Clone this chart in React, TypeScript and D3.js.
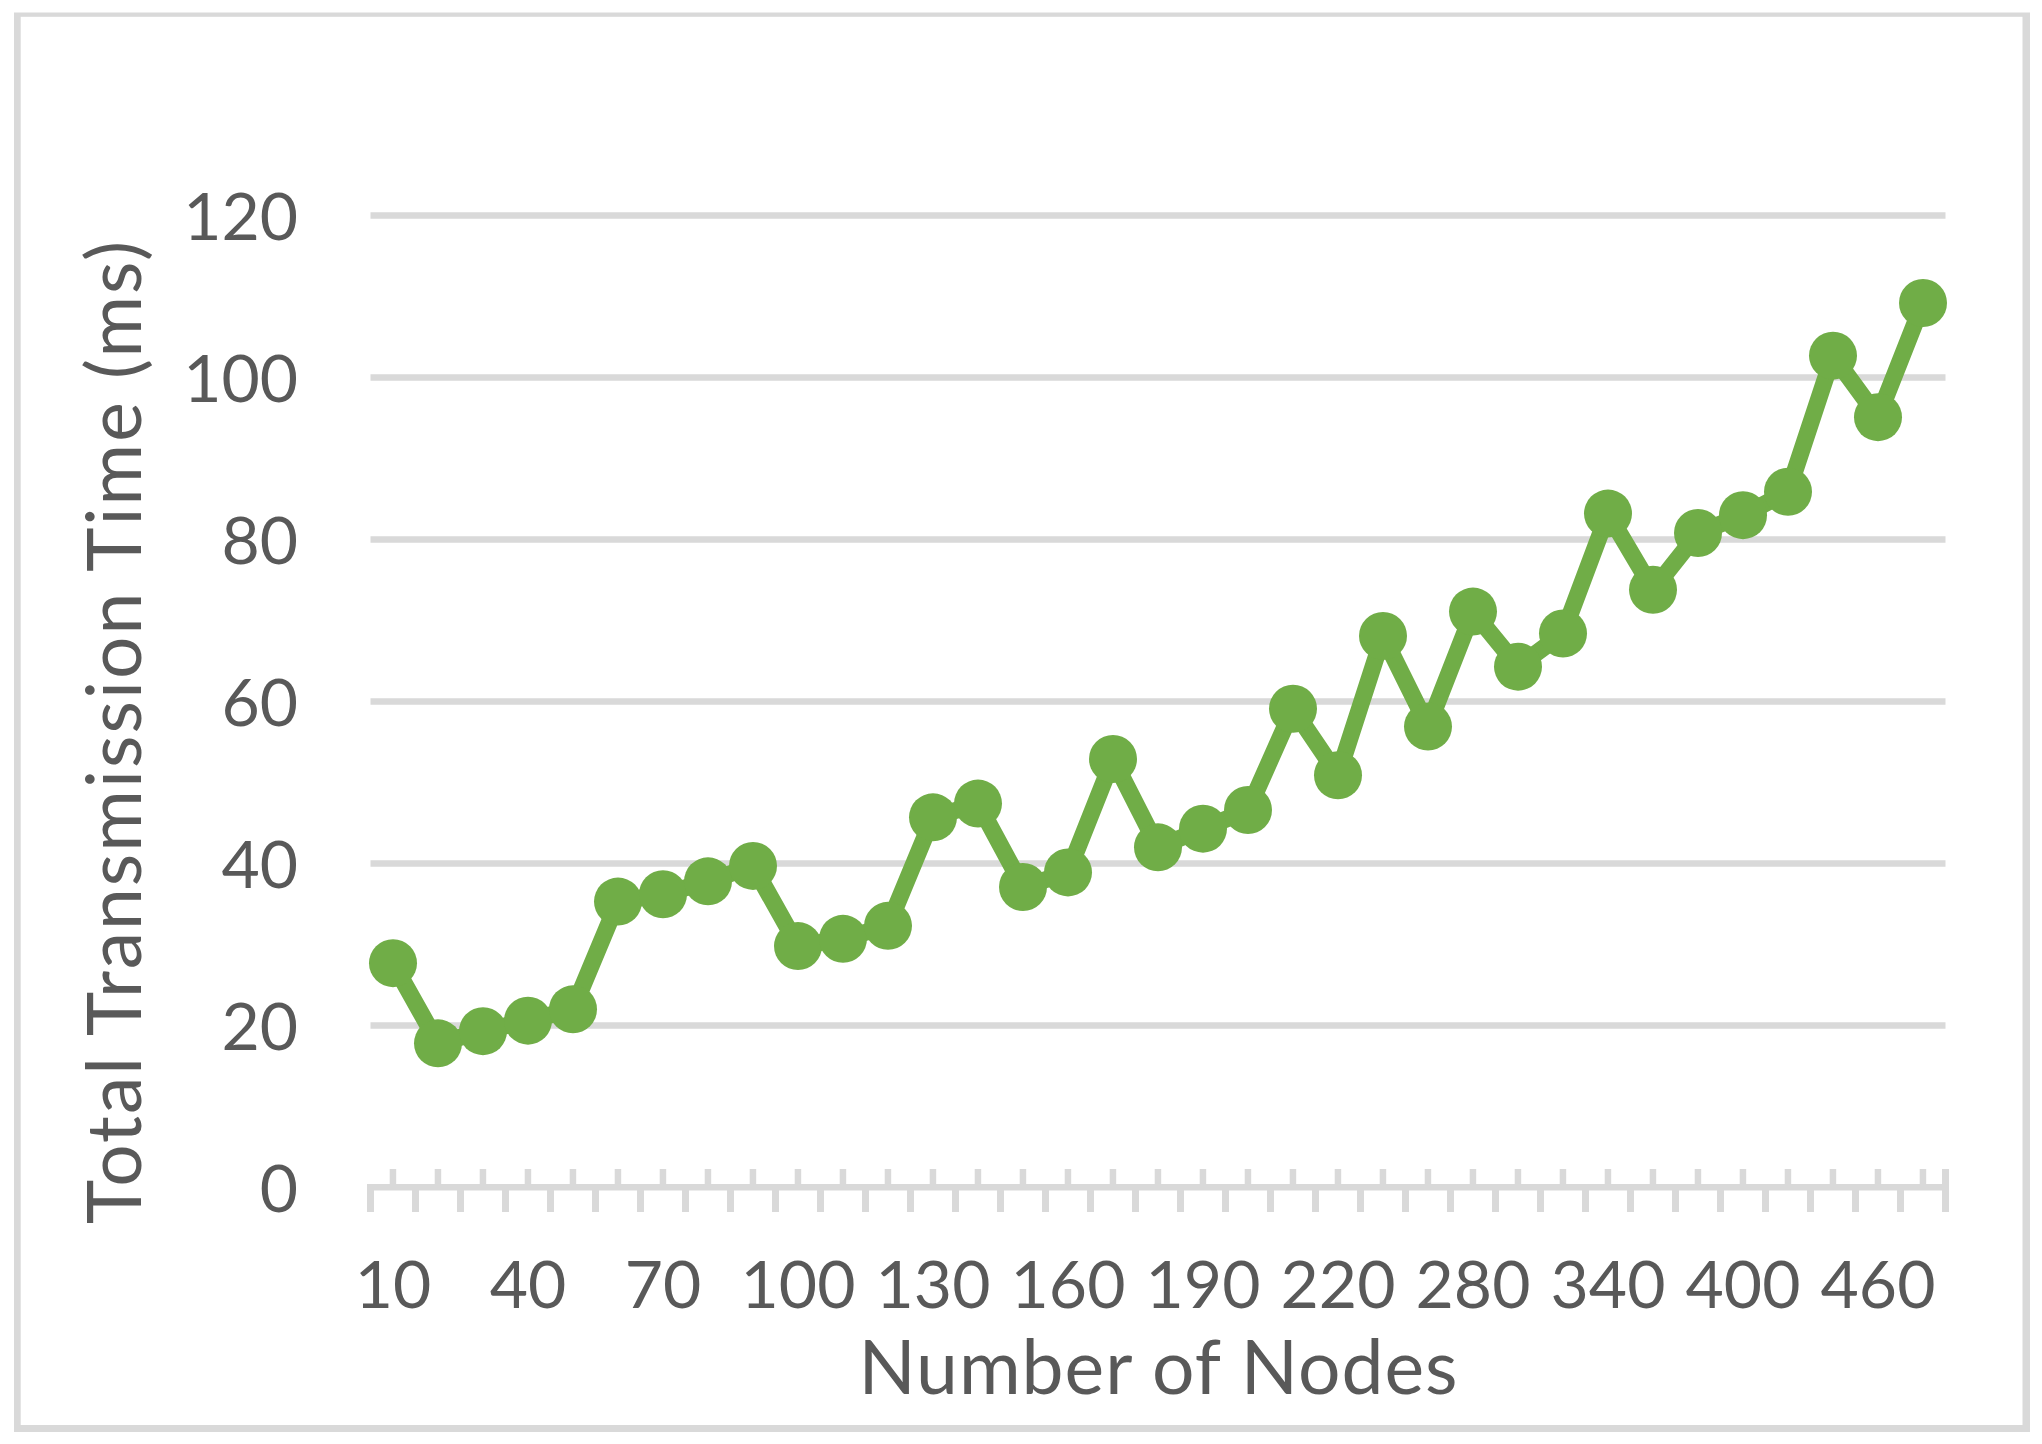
import React from 'react';
import * as d3 from 'd3';

// Number of nodes (category axis) and measured total transmission time (ms)
const nodeCounts = [
  10, 20, 30, 40, 50, 60, 70, 80, 90, 100, 110, 120, 130, 140, 150, 160, 170, 180, 190, 200, 210, 220,
  240, 260, 280, 300, 320, 340, 360, 380, 400, 420, 440, 460, 480,
];
const transmissionTime = [
  27.7, 17.8, 19.3, 20.6, 22.0, 35.3, 36.2, 37.8, 39.7, 29.8, 30.7, 32.3, 45.7, 47.4, 37.1, 38.9, 52.9,
  42.0, 44.3, 46.6, 59.1, 50.9, 68.1, 56.9, 71.1, 64.3, 68.4, 83.2, 73.8, 80.8, 83.0, 85.9, 102.7, 95.1,
  109.2,
];
const yTicks = [0, 20, 40, 60, 80, 100, 120];
const xTickLabels = [10, 40, 70, 100, 130, 160, 190, 220, 280, 340, 400, 460];

const WIDTH = 2042;
const HEIGHT = 1444;
const GREEN = '#70AD47';
const GRID = '#D9D9D9';
const TEXT = '#595959';
const FONT = 'Lato, "Open Sans", sans-serif';

export default function App() {
  const x = d3.scaleBand<number>().domain(nodeCounts).range([370.5, 1945.5]).padding(0);
  const y = d3.scaleLinear().domain([0, 120]).range([1187.5, 215.5]);
  const cx = (c: number) => (x(c) ?? 0) + x.bandwidth() / 2;

  const points = nodeCounts.map((c, i) => [cx(c), y(transmissionTime[i])] as [number, number]);
  const line = d3.line()(points) || '';

  const [x0, x1] = x.range();
  const axisY = y(0);

  return (
    <div style={{ position: 'absolute', left: 0, top: 0, background: '#fff' }}>
      <svg width={WIDTH} height={HEIGHT} style={{ display: 'block' }} fontFamily={FONT}>
        <rect width={WIDTH} height={HEIGHT} fill="#fff" />
        {/* chart border */}
        <rect x={14} y={12.5} width={2016} height={1419.5} fill={GRID} />
        <rect x={20.7} y={16.8} width={2001.8} height={1408.2} fill="#fff" />

        {/* gridlines */}
        {yTicks.filter((t) => t > 0).map((t) => (
          <line key={t} x1={x0} x2={x1} y1={y(t)} y2={y(t)} stroke={GRID} strokeWidth={6.5} />
        ))}

        {/* category axis */}
        <rect x={x0 - 3.5} y={axisY - 3.5} width={x1 - x0 + 3.5} height={6.5} fill={GRID} />
        {nodeCounts.map((c) => (
          <rect key={'u' + c} x={cx(c) - 3.3} y={1169} width={6.5} height={axisY - 1169} fill={GRID} />
        ))}
        {[...nodeCounts.map((c) => x(c) ?? 0), x1].map((b, i) => (
          <rect key={'d' + i} x={b - 3.5} y={axisY} width={7} height={1212 - axisY} fill={GRID} />
        ))}
        <rect x={x1 - 3.5} y={1169} width={7} height={1212 - 1169} fill={GRID} />

        {/* y tick labels */}
        {yTicks.map((t) => (
          <text key={t} x={298} y={y(t) + 24} textAnchor="end" fontSize={66} fill={TEXT}>
            {t}
          </text>
        ))}

        {/* x tick labels */}
        {xTickLabels.map((c) => (
          <text key={c} x={cx(c)} y={1308} textAnchor="middle" fontSize={66} fill={TEXT}>
            {c}
          </text>
        ))}

        {/* axis titles */}
        <text
          x={(x0 + x1) / 2}
          y={1394}
          textAnchor="middle"
          fontSize={75}
          fill={TEXT}
          textLength={599}
          lengthAdjust="spacing"
        >
          Number of Nodes
        </text>
        <text
          transform={`translate(141, 732.5) rotate(-90)`}
          textAnchor="middle"
          fontSize={75}
          fill={TEXT}
          textLength={983}
          lengthAdjust="spacing"
        >
          Total Transmission Time (ms)
        </text>

        {/* series */}
        <path d={line} fill="none" stroke={GREEN} strokeWidth={17} strokeLinejoin="round" />
        {points.map(([px, py], i) => (
          <circle key={i} cx={px} cy={py} r={24} fill={GREEN} />
        ))}
      </svg>
    </div>
  );
}
